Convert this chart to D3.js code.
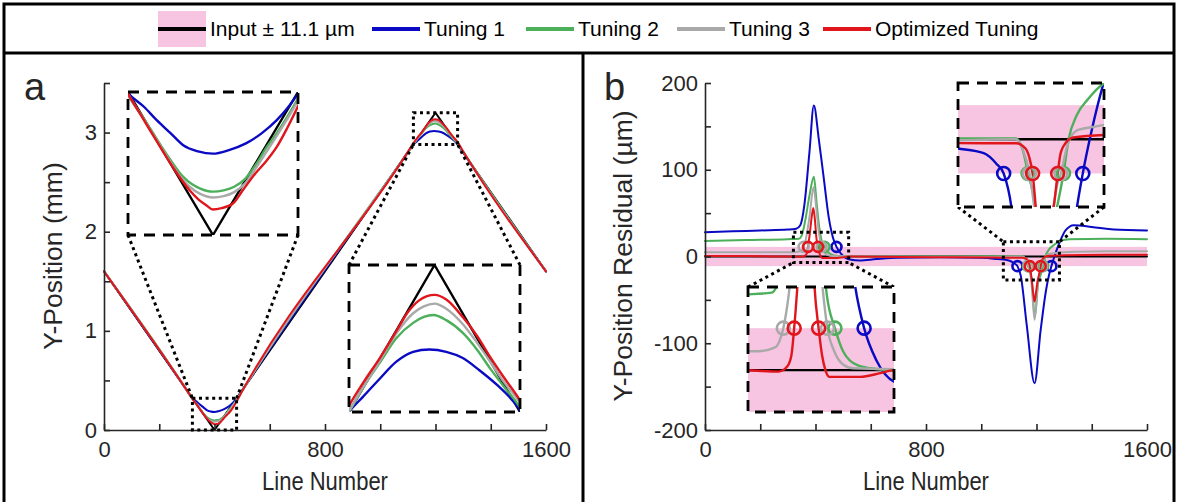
<!DOCTYPE html>
<html><head><meta charset="utf-8">
<script src="https://cdn.jsdelivr.net/npm/d3@7/dist/d3.min.js"></script>
<style>html,body{margin:0;padding:0;background:#fff;}svg{display:block;}</style>
</head><body>
<svg id="chart" width="1179" height="502"></svg>
<script>
// ---------------- DATA ----------------
const legendLabels = ["Input \u00b1 11.1 \u00b5m", "Tuning 1", "Tuning 2", "Tuning 3", "Optimized Tuning"];
const toleranceUm = 11.1;

const xTickValues = [0, 200, 400, 600, 800, 1000, 1200, 1400, 1600];
const xTickLabels = ["0", "", "", "", "800", "", "", "", "1600"];
const yTickValuesA = [0, 0.5, 1, 1.5, 2, 2.5, 3, 3.5];
const yTickLabelsA = ["0", "", "1", "", "2", "", "3", ""];
const yTickValuesB = [-200, -150, -100, -50, 0, 50, 100, 150, 200];
const yTickLabelsB = ["-200", "", "-100", "", "0", "", "100", "", "200"];

// Panel a: Y-position (mm) vs line number
const inputA = [[0,1.6],[400,0],[1200,3.2],[1600,1.6]];
const tuning1A = [[0,1.6],[300,0.40],[320,0.318],[335,0.287],[347,0.257],[360,0.228],[372,0.201],[386,0.187],[400,0.182],[415,0.19],[431,0.205],[446,0.228],[460,0.257],[472,0.29],[481,0.32],[500,0.40],
  [1100,2.80],[1120,2.88],[1133,2.913],[1149,2.953],[1164,2.989],[1180,3.011],[1195,3.016],[1211,3.011],[1226,2.998],[1242,2.971],[1258,2.94],[1280,2.885],[1300,2.80],[1600,1.6]];
const tuning2A = [[0,1.6],[300,0.40],[320,0.3125],[335,0.26],[347,0.215],[360,0.168],[372,0.13],[380,0.114],[388,0.104],[400,0.097],[410,0.1],[420,0.108],[430,0.125],[441,0.16],[450,0.195],[460,0.228],[470,0.265],[480,0.305],[500,0.395],
  [1100,2.80],[1120,2.88],[1135,2.94],[1149,2.988],[1164,3.04],[1180,3.074],[1190,3.087],[1199,3.091],[1211,3.08],[1227,3.051],[1240,3.015],[1252,2.975],[1265,2.935],[1280,2.89],[1300,2.805],[1600,1.6]];
const tuning3A = [[0,1.6],[300,0.40],[320,0.315],[335,0.258],[347,0.212],[360,0.163],[370,0.128],[378,0.108],[388,0.092],[400,0.084],[410,0.087],[420,0.096],[430,0.115],[441,0.152],[450,0.185],[460,0.222],[470,0.26],[480,0.3],[500,0.392],
  [1100,2.80],[1120,2.882],[1135,2.94],[1149,2.992],[1164,3.05],[1180,3.095],[1190,3.11],[1200,3.116],[1211,3.105],[1227,3.07],[1240,3.03],[1252,2.99],[1265,2.945],[1280,2.9],[1300,2.81],[1600,1.6]];
const optimizedA = [[0,1.6],[300,0.40],[320,0.316],[335,0.257],[347,0.21],[360,0.16],[369,0.128],[378,0.1],[387,0.078],[394,0.066],[400,0.057],[408,0.06],[419,0.071],[428,0.1],[440,0.138],[450,0.165],[460,0.197],[470,0.24],[480,0.288],[500,0.39],
  [1100,2.805],[1120,2.894],[1135,2.95],[1149,2.998],[1164,3.055],[1175,3.097],[1185,3.122],[1193,3.132],[1200,3.135],[1211,3.125],[1227,3.085],[1240,3.045],[1252,3.0],[1265,2.955],[1280,2.905],[1300,2.812],[1600,1.6]];

// Panel b: Y-position residual (µm) vs line number
const inputB = [[0,0],[1600,0]];
const tuning1B = [[0,28],[100,29],[200,30],[300,31],[330,32],[345,36],[360,60],[378,120],[394,174],[412,135],[430,90],[448,45],[463,22],[476,11.1],[494,2.6],[524,-3.4],[560,-4.5],[620,-3],[700,-1.5],[850,-1],[1000,-1.5],[1060,-3],[1100,-4.5],[1120,-8],[1131,-11.1],[1143,-22],[1165,-80],[1193,-146],[1215,-85],[1235,-38],[1245,-22],[1254,-11.1],[1268,3],[1286,18],[1305,30],[1335,36],[1400,34],[1480,31],[1600,30]];
const tuning2B = [[0,18],[150,19],[300,20],[340,20.5],[350,24],[362,40],[378,70],[394,92],[404,62],[413,35],[421,20],[433,11.1],[445,5],[466,1.3],[485,0.5],[520,0],[700,0],[900,0],[1100,0.3],[1150,0.3],[1160,-3],[1169,-11.1],[1182,-25],[1194,-70],[1206,-30],[1214,-22],[1224,-11.1],[1232,0],[1245,8],[1262,13],[1286,18],[1320,20],[1450,20.5],[1600,20]];
const tuning3B = [[0,5],[200,5],[320,5],[345,6],[352,8],[357,11.1],[365,20],[378,45],[393,80],[403,55],[412,28],[422,11.1],[432,5],[445,1.5],[460,0.5],[600,0],[800,-0.5],[1000,-0.5],[1150,0],[1160,-3],[1171,-11.1],[1182,-30],[1193,-73],[1205,-30],[1213,-16],[1220,-11.1],[1230,-2],[1245,2.9],[1270,4],[1286,4.6],[1350,5.5],[1450,6],[1600,6]];
const optimizedB = [[0,0.5],[150,0.5],[300,0],[350,-0.4],[363,1],[369,4],[373,11.1],[380,28],[386,45],[392,56],[398,42],[403,22],[409,11.1],[414,4],[419,0],[425,-1.8],[450,-1.8],[470,-1.8],[500,-0.8],[520,0],[700,-0.5],[900,-1],[1100,-1.3],[1150,-1.3],[1165,-3],[1171,-6],[1176,-11.1],[1182,-25],[1188,-42],[1193,-52],[1198,-42],[1204,-28],[1210,-20],[1215,-11.1],[1219,-5],[1223,-2.6],[1239,0.6],[1300,1.5],[1450,2],[1600,2]];

// tolerance-crossing markers (line, residual)
const tuning1Circles = [[476,11.1],[1131,-11.1],[1254,-11.1]];
const tuning2Circles = [[433,11.1],[1169,-11.1],[1224,-11.1]];
const tuning3Circles = [[357,11.1],[422,11.1],[1171,-11.1],[1220,-11.1]];
const optimizedCircles = [[373,11.1],[409,11.1],[1176,-11.1],[1215,-11.1]];

// ---------------- STYLE / LAYOUT ----------------
const FONT = '"Liberation Sans", Arial, Helvetica, sans-serif';
const TXT = '#262626';
const COL = { input:'#000000', t1:'#0a0ac4', t2:'#4caf5a', t3:'#a9a9a9', opt:'#e0161c', band:'#f7c5e1' };

const svg = d3.select('#chart');
svg.append('rect').attr('width',1179).attr('height',502).attr('fill','#fff');

const xA = d3.scaleLinear().domain([0,1600]).range([104,546]);
const yA = d3.scaleLinear().domain([0,3.5]).range([430,83]);
const xB = d3.scaleLinear().domain([0,1600]).range([705,1147]);
const yB = d3.scaleLinear().domain([-200,200]).range([430,83]);

const seriesA = [
  {data:inputA, color:COL.input, curve:d3.curveLinear},
  {data:tuning1A, color:COL.t1, curve:d3.curveMonotoneX},
  {data:tuning2A, color:COL.t2, curve:d3.curveMonotoneX},
  {data:tuning3A, color:COL.t3, curve:d3.curveMonotoneX},
  {data:optimizedA, color:COL.opt, curve:d3.curveMonotoneX}
];
const seriesB = [
  {data:inputB, color:COL.input, curve:d3.curveLinear, circles:[]},
  {data:tuning1B, color:COL.t1, curve:d3.curveMonotoneX, circles:tuning1Circles},
  {data:tuning2B, color:COL.t2, curve:d3.curveMonotoneX, circles:tuning2Circles},
  {data:tuning3B, color:COL.t3, curve:d3.curveMonotoneX, circles:tuning3Circles},
  {data:optimizedB, color:COL.opt, curve:d3.curveMonotoneX, circles:optimizedCircles}
];

function drawSeries(g, x, y, series, lw) {
  series.forEach(s => {
    g.append('path').datum(s.data)
      .attr('fill','none').attr('stroke',s.color).attr('stroke-width',lw)
      .attr('stroke-linejoin','round').attr('stroke-linecap','round')
      .attr('d', d3.line().x(d=>x(d[0])).y(d=>y(d[1])).curve(s.curve));
  });
}
function drawCircles(g, x, y, series, r) {
  const [d0,d1] = x.domain();
  series.forEach(s => {
    g.selectAll(null).data((s.circles||[]).filter(d => d[0]>=d0 && d[0]<=d1)).enter().append('circle')
      .attr('cx', d=>x(d[0])).attr('cy', d=>y(d[1])).attr('r', r)
      .attr('fill','none').attr('stroke', s.color).attr('stroke-width', 2.6);
  });
}
function drawBand(g, x, y) {
  g.append('rect')
    .attr('x', x(0)).attr('width', x(1600)-x(0))
    .attr('y', y(toleranceUm)).attr('height', y(-toleranceUm)-y(toleranceUm))
    .attr('fill', COL.band);
}

function drawAxes(x, y, yVals, yLabs) {
  const g = svg.append('g');
  const ax = d3.axisBottom(x).tickValues(xTickValues).tickFormat((d,i)=>xTickLabels[i])
    .tickSizeInner(-6).tickSizeOuter(0).tickPadding(11);
  const gx = g.append('g').attr('transform',`translate(0,${y.range()[0]})`).call(ax);
  const ay = d3.axisLeft(y).tickValues(yVals).tickFormat((d,i)=>yLabs[i])
    .tickSizeInner(-6).tickSizeOuter(0).tickPadding(7);
  const gy = g.append('g').attr('transform',`translate(${x.range()[0]},0)`).call(ay);
  [gx, gy].forEach(a => {
    a.select('.domain').attr('stroke',TXT).attr('stroke-width',1.6);
    a.selectAll('.tick line').attr('stroke',TXT).attr('stroke-width',1.6);
    a.selectAll('.tick text').attr('font-size',22).attr('font-family',FONT).attr('fill',TXT);
  });
  return g;
}

// --------------- frame ---------------
const frame = svg.append('g').attr('stroke','#000').attr('stroke-width',3).attr('fill','none');
frame.append('path').attr('d','M4,504 V4 H1174 V504');
frame.append('line').attr('x1',4).attr('x2',1174).attr('y1',53).attr('y2',53);
frame.append('line').attr('x1',583).attr('x2',583).attr('y1',53).attr('y2',504);

// --------------- legend ---------------
const lg = svg.append('g');
const legendX = [158, 372, 526, 677, 823];
const legendCols = [COL.input, COL.t1, COL.t2, COL.t3, COL.opt];
const LY = 29;
legendLabels.forEach((lab,i) => {
  const x0 = legendX[i];
  if (i === 0) {
    lg.append('rect').attr('x',x0).attr('y',11).attr('width',48).attr('height',36).attr('fill',COL.band);
  }
  lg.append('line').attr('x1',x0).attr('x2',x0+48).attr('y1',LY).attr('y2',LY)
    .attr('stroke',legendCols[i]).attr('stroke-width',4);
  lg.append('text').attr('x',x0+52).attr('y',LY+7).text(lab)
    .attr('font-family',FONT).attr('font-size',21).attr('fill','#000');
});

// --------------- panel a ---------------
const gA = svg.append('g');
drawSeries(gA, xA, yA, seriesA, 2);
drawAxes(xA, yA, yTickValuesA, yTickLabelsA);

// --------------- panel b ---------------
const gB = svg.append('g');
drawBand(gB, xB, yB);
drawSeries(gB, xB, yB, seriesB, 2);
drawCircles(gB, xB, yB, seriesB, 5);
drawAxes(xB, yB, yTickValuesB, yTickLabelsB);

// --------------- insets ---------------
let clipN = 0;
function drawInset(cfg) {
  const {mx, my, box, xDom, yDom, src, series, band, circles, conn} = cfg;
  const [bx0,by0,bx1,by1] = box;
  const ix = d3.scaleLinear().domain(xDom).range([bx0,bx1]);
  const iy = d3.scaleLinear().domain(yDom).range([by1,by0]);
  const g = svg.append('g');
  const sx0 = mx(src[0]), sx1 = mx(src[1]), sy0 = my(src[3]), sy1 = my(src[2]);
  const dotted = sel => sel.attr('fill','none').attr('stroke','#000').attr('stroke-width',3).attr('stroke-dasharray','3,3.6');
  g.append('rect').attr('x',sx0).attr('y',sy0).attr('width',sx1-sx0).attr('height',sy1-sy0).call(dotted);
  const corners = conn === 'down'
    ? [[bx0,by1,sx0,sy0],[bx1,by1,sx1,sy0]]
    : [[bx0,by0,sx0,sy1],[bx1,by0,sx1,sy1]];
  corners.forEach(c => g.append('line').attr('x1',c[0]).attr('y1',c[1]).attr('x2',c[2]).attr('y2',c[3]).call(dotted));
  const id = 'clip' + (clipN++);
  g.append('clipPath').attr('id',id).append('rect').attr('x',bx0).attr('y',by0).attr('width',bx1-bx0).attr('height',by1-by0);
  g.append('rect').attr('x',bx0).attr('y',by0).attr('width',bx1-bx0).attr('height',by1-by0).attr('fill','#fff');
  const inner = g.append('g').attr('clip-path',`url(#${id})`);
  if (band) drawBand(inner, ix, iy);
  drawSeries(inner, ix, iy, series, 2.4);
  if (circles) drawCircles(g, ix, iy, series, 6.5);
  g.append('rect').attr('x',bx0).attr('y',by0).attr('width',bx1-bx0).attr('height',by1-by0)
    .attr('fill','none').attr('stroke','#000').attr('stroke-width',2.8).attr('stroke-dasharray','11,8');
}

drawInset({mx:xA, my:yA, box:[128,92,298,235], xDom:[320,480], yDom:[0,0.32], src:[320,480,0,0.32], series:seriesA, conn:'down'});
drawInset({mx:xA, my:yA, box:[349,265,520,412], xDom:[1120,1280], yDom:[2.88,3.2], src:[1120,1280,2.88,3.2], series:seriesA, conn:'up'});
drawInset({mx:xB, my:yB, box:[748,287,894,412], xDom:[305,520], yDom:[-11.1,22], src:[320,520,-7,28], series:seriesB, band:true, circles:true, conn:'up'});
drawInset({mx:xB, my:yB, box:[958,83,1104,207], xDom:[1060,1287], yDom:[-22,18.3], src:[1080,1283,-27,17], series:seriesB, band:true, circles:true, conn:'down'});

// --------------- labels ---------------
const T = svg.append('g').attr('font-family',FONT).attr('fill',TXT);
T.append('text').attr('transform','translate(325,490) scale(0.88,1)').attr('text-anchor','middle').attr('font-size',25).text('Line Number');
T.append('text').attr('transform','translate(926,490) scale(0.88,1)').attr('text-anchor','middle').attr('font-size',25).text('Line Number');
T.append('text').attr('transform','translate(62,256) rotate(-90)').attr('text-anchor','middle').attr('font-size',26.5).text('Y-Position (mm)');
T.append('text').attr('transform','translate(632,256) rotate(-90)').attr('text-anchor','middle').attr('font-size',26.5).text('Y-Position Residual (\u00b5m)');
T.append('text').attr('x',24).attr('y',100).attr('font-size',38).text('a');
T.append('text').attr('x',604).attr('y',100).attr('font-size',38).text('b');
</script>
</body></html>
